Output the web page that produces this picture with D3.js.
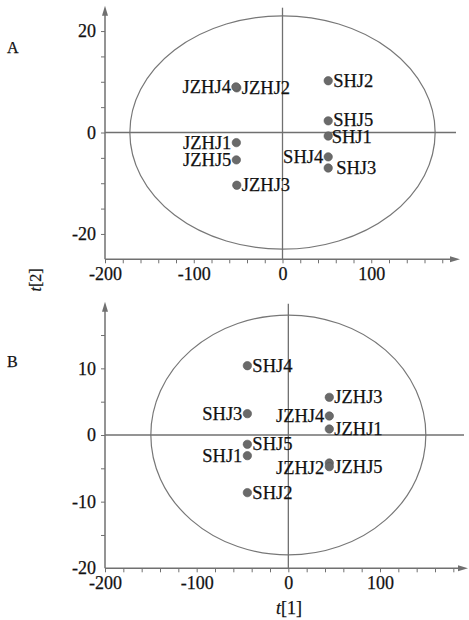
<!DOCTYPE html>
<html><head><meta charset="utf-8">
<script src="https://cdn.jsdelivr.net/npm/d3@7"></script>
<style>
html,body{margin:0;padding:0;background:#fff;}
svg{display:block;}
text{font-family:"Liberation Serif","Times New Roman",serif;fill:#111;stroke:#111;stroke-width:0.25px;}
</style></head>
<body>
<script>
// ---- data ----
const sampleNames = ["JZHJ1","JZHJ2","JZHJ3","JZHJ4","JZHJ5","SHJ1","SHJ2","SHJ3","SHJ4","SHJ5"];
// Panel A scores
const t1A = [-52, -51.5, -51.5, -52.5, -52, 51.5, 51.5, 51.5, 51.5, 51.5];
const t2A = [-2.0, 8.8, -10.4, 9.0, -5.4, -0.7, 10.2, -7.0, -4.8, 2.3];
// Panel B scores
const t1B = [44.7, 44.7, 44.7, 44.7, 44.7, -44.7, -44.7, -44.7, -44.7, -44.7];
const t2B = [0.9, -4.2, 5.65, 2.85, -4.75, -3.1, -8.65, 3.2, 10.4, -1.4];
// Ellipse (Hotelling T2) radii
const ellipseA = [172, 23];
const ellipseB = [150, 18];
// tick labels
const xTickLabels = [-200, -100, 0, 100];
const yTickLabelsA = [-20, 0, 20];
const yTickLabelsB = [-20, -10, 0, 10];
const panelLabels = ["A", "B"];
const axisTitles = ["t", "[1]", "t", "[2]"];

// ---- layout (not data) ----
const W = 469, H = 620;
const svg = d3.select("body").append("svg").attr("width", W).attr("height", H);
const axisColor = "#707070";

const sideA = ["L","R","R","L","L","R","R","R","L","R"];
const sideB = ["R","L","R","L","R","L","R","L","R","R"];
const extraDyA = [0.5,0,0,0,0,0.5,0,0,0,-0.5];
const extraDyB = [0,5,0,0,0,0,0,0,0,0];
const extraDxA = [0,0,0,0,0,-1.5,0,3,0,0];

function panel(cfg){
  const x = d3.scaleLinear().domain(cfg.xDomain).range(cfg.xRange);
  const y = d3.scaleLinear().domain(cfg.yDomain).range(cfg.yRange);
  const g = svg.append("g");
  const x0 = cfg.xRange[0], x1 = cfg.xRange[1];
  const yb = cfg.yRange[0], yt = cfg.yRange[1];

  // ellipse
  g.append("ellipse")
    .attr("cx", x(0)).attr("cy", y(0))
    .attr("rx", x(cfg.ell[0]) - x(0)).attr("ry", y(0) - y(cfg.ell[1]))
    .attr("fill","none").attr("stroke","#777").attr("stroke-width",1.2);

  // reference lines
  g.append("line").attr("x1", x0).attr("x2", x1 - 4).attr("y1", y(0)).attr("y2", y(0))
    .attr("stroke", axisColor).attr("stroke-width",1.3);
  g.append("line").attr("x1", x(0)).attr("x2", x(0)).attr("y1", yb).attr("y2", yt + 2)
    .attr("stroke", axisColor).attr("stroke-width",1.3);

  // x axis
  const xAxis = d3.axisBottom(x).tickValues(d3.range(-200, cfg.xDomain[1], 20)).tickSize(4);
  const gx = g.append("g").attr("transform", `translate(0,${yb})`).call(xAxis);
  gx.select(".domain").remove();
  gx.append("line").attr("x1", x0).attr("x2", x1 - 6).attr("stroke", axisColor).attr("stroke-width",1.5);
  gx.selectAll(".tick line").attr("stroke", axisColor).attr("stroke-width",1);
  gx.selectAll(".tick text").attr("font-size", 18).attr("fill","#111")
    .attr("font-family",'"Liberation Serif",serif').attr("y", 8).attr("dy","0.71em")
    .text(d => xTickLabels.includes(d) ? String(d) : "");
  g.append("path").attr("d", `M${x1},${yb} L${x1-10},${yb-3} L${x1-10},${yb+3} Z`).attr("fill", axisColor);

  // y axis
  const yAxis = d3.axisLeft(y).tickValues(d3.range(cfg.yDomain[0] + 5, cfg.yDomain[1], 5)).tickSize(4);
  const gy = g.append("g").attr("transform", `translate(${x0},0)`).call(yAxis);
  gy.select(".domain").remove();
  gy.append("line").attr("y1", yb).attr("y2", yt + 6).attr("stroke", axisColor).attr("stroke-width",1.5);
  gy.selectAll(".tick line").attr("stroke", axisColor).attr("stroke-width",1);
  gy.selectAll(".tick text").attr("font-size", 18).attr("fill","#111")
    .attr("font-family",'"Liberation Serif",serif').attr("x", -9)
    .text(d => cfg.yLabels.includes(d) ? String(d) : "");
  if (cfg.yLabels.includes(cfg.yDomain[0])) {
    g.append("text").attr("x", x0 - 9).attr("y", yb).attr("dy","0.32em")
      .attr("text-anchor","end").attr("font-size",18).text(String(cfg.yDomain[0]));
  }
  g.append("path").attr("d", `M${x0},${yt} L${x0-3},${yt+10} L${x0+3},${yt+10} Z`).attr("fill", axisColor);

  // points
  const pts = sampleNames.map((n,i)=>({n, a: cfg.t1[i], b: cfg.t2[i], side: cfg.side[i], edy: cfg.edy[i], edx: cfg.edx[i]}));
  g.selectAll("circle.pt").data(pts).join("circle").attr("class","pt")
    .attr("cx", d => x(d.a)).attr("cy", d => y(d.b)).attr("r", 4.2)
    .attr("fill","#6a6a6a").attr("stroke","#555").attr("stroke-width",0.6);
  g.selectAll("text.lbl").data(pts).join("text").attr("class","lbl")
    .attr("x", d => x(d.a) + (d.side === "R" ? 5 + d.edx : -5 + d.edx))
    .attr("y", d => y(d.b) + 6 + d.edy)
    .attr("text-anchor", d => d.side === "R" ? "start" : "end")
    .attr("font-size", 18.5).text(d => d.n);

  // panel label
  g.append("text").attr("x", 7).attr("y", cfg.panelY).attr("font-size", 16).text(cfg.panel);
  return {x, y};
}

panel({xDomain:[-200,200], xRange:[105,460], yDomain:[-25,25], yRange:[259.3,5.7],
  ell: ellipseA, yLabels: yTickLabelsA, t1: t1A, t2: t2A, side: sideA,
  edy: extraDyA, edx: extraDxA, panel: panelLabels[0], panelY: 53});
panel({xDomain:[-200,196], xRange:[105,468], yDomain:[-20,20], yRange:[568.3,301.7],
  ell: ellipseB, yLabels: yTickLabelsB, t1: t1B, t2: t2B, side: sideB,
  edy: extraDyB, edx: [0,0,0,0,0,0,0,0,0,0], panel: panelLabels[1], panelY: 367});

// axis titles
const tx = svg.append("text").attr("x", 289).attr("y", 614).attr("text-anchor","middle").attr("font-size", 18);
tx.append("tspan").attr("font-style","italic").text(axisTitles[0]);
tx.append("tspan").text(axisTitles[1]);
const ty = svg.append("text").attr("transform","translate(41,280) rotate(-90)").attr("text-anchor","middle").attr("font-size", 16);
ty.append("tspan").attr("font-style","italic").text(axisTitles[2]);
ty.append("tspan").text(axisTitles[3]);
</script>
</body></html>
